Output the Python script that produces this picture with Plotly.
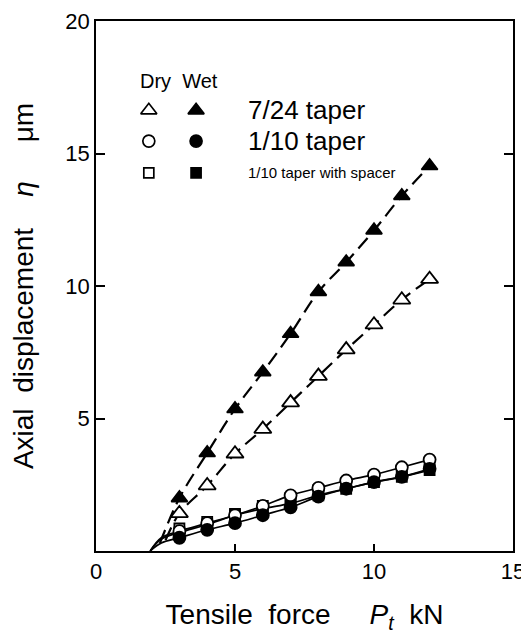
import plotly.graph_objects as go

# ---- data ----
force = [3, 4, 5, 6, 7, 8, 9, 10, 11, 12]
dry_724 = [1.42, 2.47, 3.67, 4.6, 5.6, 6.6, 7.6, 8.54, 9.48, 10.26]
wet_724 = [2.0, 3.7, 5.36, 6.75, 8.2, 9.78, 10.9, 12.1, 13.4, 14.53]
dry_110 = [0.75, 1.05, 1.35, 1.7, 2.1, 2.38, 2.66, 2.88, 3.16, 3.45]
wet_110 = [0.5, 0.8, 1.05, 1.35, 1.65, 2.05, 2.35, 2.6, 2.8, 3.1]
dry_spacer = [0.85, 1.1, 1.4, 1.7, 2.0, 2.3, 2.55, 2.75, 3.0, 3.25]
wet_spacer = [0.7, 1.0, 1.35, 1.6, 1.8, 2.1, 2.35, 2.6, 2.8, 3.05]

# start of the fitted curves (where displacement begins)
start_x_724_dry = [2.5]
start_y_724_dry = [0.4]
start_x_724_wet = [2.3]
start_y_724_wet = [0.3]
start_x_110 = [1.95, 2.35]
start_y_110_dry = [0.0, 0.5]
start_y_110_wet = [0.0, 0.3]
start_y_sp_wet = [0.0, 0.45]

x_ticks = [0, 5, 10, 15]
y_ticks = [5, 10, 15, 20]

legend_labels = ["7/24 taper", "1/10 taper", "1/10 taper with spacer"]

FONT = "Liberation Sans, Arial, sans-serif"
BLACK = "black"

fig = go.Figure()

def curve(xs, ys, dash, width):
    fig.add_trace(go.Scatter(x=xs, y=ys, mode="lines", line_shape="spline",
                             line=dict(color=BLACK, width=width, dash=dash),
                             hoverinfo="skip", showlegend=False))

curve(start_x_724_wet + force, start_y_724_wet + wet_724, "14px,7px", 2.2)
curve(start_x_724_dry + force, start_y_724_dry + dry_724, "14px,7px", 2.2)
curve(start_x_110 + force, start_y_110_dry + dry_110, "solid", 1.7)
curve(start_x_110 + force, start_y_110_wet + wet_110, "solid", 1.7)
curve(start_x_110 + force, start_y_sp_wet + wet_spacer, "solid", 1.7)

def markers(ys, symbol, size):
    is_open = "open" in symbol
    fig.add_trace(go.Scatter(x=force, y=ys, mode="markers",
                             marker=dict(symbol=symbol.replace("-open", ""), size=size,
                                         color="white" if is_open else BLACK,
                                         line=dict(color=BLACK, width=1.8)),
                             showlegend=False))

markers(dry_724, "triangle-up-open", 15)
markers(wet_724, "triangle-up", 14)
markers(dry_spacer, "square-open", 10)
markers(wet_spacer, "square", 10)
markers(dry_110, "circle-open", 12)
markers(wet_110, "circle", 12)

# ---- custom legend ----
leg_dry_x, leg_wet_x, leg_text_x = 1.9, 3.6, 5.4
leg_rows = [16.63, 15.47, 14.27]
leg_sym = ["triangle-up", "circle", "square"]
leg_sizes = [14, 12, 10]
for i in range(3):
    fig.add_trace(go.Scatter(x=[leg_dry_x], y=[leg_rows[i]], mode="markers",
                             marker=dict(symbol=leg_sym[i], size=leg_sizes[i], color="white",
                                         line=dict(color=BLACK, width=1.7)), showlegend=False))
    fig.add_trace(go.Scatter(x=[leg_wet_x], y=[leg_rows[i]], mode="markers",
                             marker=dict(symbol=leg_sym[i], size=leg_sizes[i], color=BLACK,
                                         line=dict(color=BLACK, width=1.7)), showlegend=False))
    fig.add_annotation(x=leg_text_x, y=leg_rows[i], text=legend_labels[i], showarrow=False,
                       xanchor="left", yanchor="middle",
                       font=dict(family=FONT, size=26 if i < 2 else 15, color=BLACK))
fig.add_annotation(x=1.5, y=17.75, text="Dry  Wet", showarrow=False, xanchor="left",
                   yanchor="middle", font=dict(family=FONT, size=20, color=BLACK))

fig.update_layout(
    width=521, height=626,
    margin=dict(l=88, r=16, t=13, b=83),
    paper_bgcolor="white", plot_bgcolor="white",
    font=dict(family=FONT, size=22, color=BLACK),
    showlegend=False,
    xaxis=dict(range=[0, 15], tickvals=x_ticks, ticks="inside", ticklen=7, tickwidth=1.5,
               tickcolor=BLACK, showline=True, linecolor=BLACK, linewidth=1.8, mirror=True,
               showgrid=False, zeroline=False, tickfont=dict(size=22),
               ticklabeloverflow="allow", automargin=False,
               title=dict(text="Tensile&nbsp;&nbsp;force&nbsp;&nbsp;&nbsp;&nbsp;&nbsp;<i>P<sub>t</sub></i>&nbsp;&nbsp;kN",
                          standoff=22, font=dict(size=28))),
    yaxis=dict(range=[0, 20], tickvals=y_ticks, ticks="inside", ticklen=9, tickwidth=1.5,
               tickcolor=BLACK, showline=True, linecolor=BLACK, linewidth=1.8, mirror="allticks",
               showgrid=False, zeroline=False, tickfont=dict(size=22),
               ticklabeloverflow="allow", automargin=False,
               title=dict(text="Axial&nbsp;&nbsp;displacement&nbsp;&nbsp;&nbsp;&nbsp;<i>η</i>&nbsp;&nbsp;&nbsp;&nbsp;&nbsp;μm",
                          standoff=26, font=dict(size=28))),
)

fig.write_html("out.html")
